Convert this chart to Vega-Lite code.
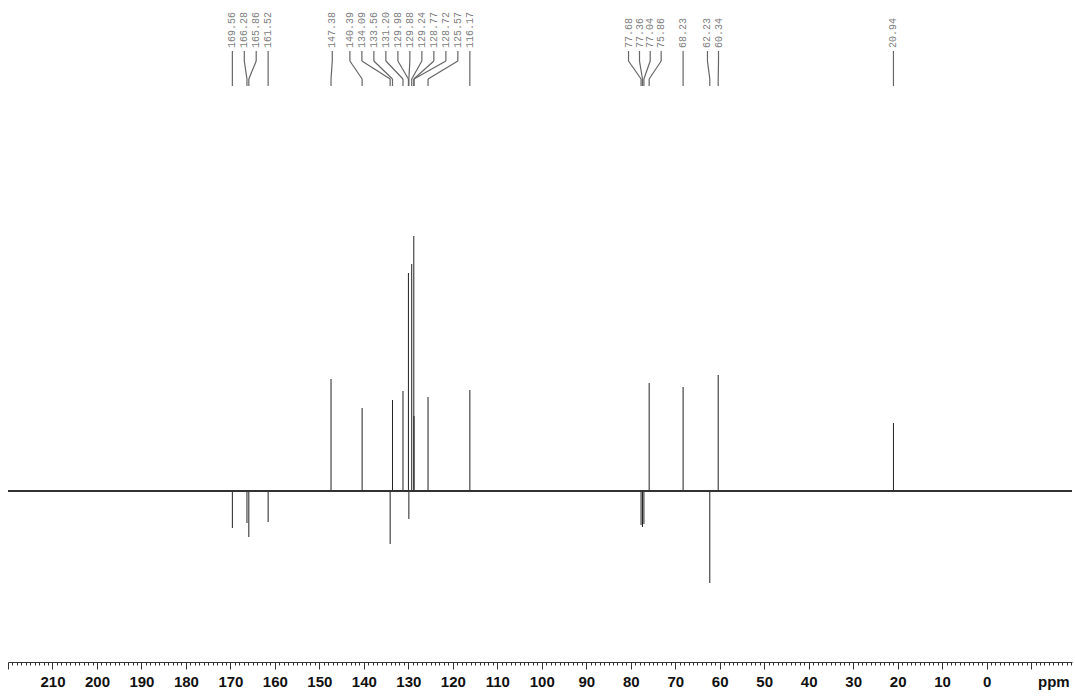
{
  "$schema": "https://vega.github.io/schema/vega-lite/v6.json",
  "width": 1064,
  "height": 662,
  "autosize": {"type": "none"},
  "padding": {"left": 8, "top": 0, "right": 3, "bottom": 34},
  "background": "white",
  "config": {"view": {"stroke": null}},
  "resolve": {"axis": {"x": "independent"}},
  "data": {"values": [
    {"ppm": 169.56, "h": -37, "label": "169.56", "lp": 169.56},
    {"ppm": 166.28, "h": -32, "label": "166.28", "lp": 166.88},
    {"ppm": 165.86, "h": -46, "label": "165.86", "lp": 164.20},
    {"ppm": 161.52, "h": -31, "label": "161.52", "lp": 161.52},
    {"ppm": 147.38, "h": 112, "label": "147.38", "lp": 147.1},
    {"ppm": 140.39, "h": 83, "label": "140.39", "lp": 143.14},
    {"ppm": 134.09, "h": -53, "label": "134.09", "lp": 140.44},
    {"ppm": 133.56, "h": 91, "label": "133.56", "lp": 137.75},
    {"ppm": 131.20, "h": 100, "label": "131.20", "lp": 135.05},
    {"ppm": 129.98, "h": 218, "label": "129.98", "lp": 132.35},
    {"ppm": 129.88, "h": -28, "label": "129.88", "lp": 129.66},
    {"ppm": 129.24, "h": 227, "label": "129.24", "lp": 126.96},
    {"ppm": 128.77, "h": 255, "label": "128.77", "lp": 124.26},
    {"ppm": 128.72, "h": 75, "label": "128.72", "lp": 121.56},
    {"ppm": 125.57, "h": 94, "label": "125.57", "lp": 118.87},
    {"ppm": 116.17, "h": 101, "label": "116.17", "lp": 116.17},
    {"ppm": 77.68, "h": -34, "label": "77.68", "lp": 80.50},
    {"ppm": 77.36, "h": -36, "label": "77.36", "lp": 78.03},
    {"ppm": 77.04, "h": -33, "label": "77.04", "lp": 75.62},
    {"ppm": 75.86, "h": 108, "label": "75.86", "lp": 73.16},
    {"ppm": 68.23, "h": 104, "label": "68.23", "lp": 68.23},
    {"ppm": 62.23, "h": -92, "label": "62.23", "lp": 62.75},
    {"ppm": 60.34, "h": 116, "label": "60.34", "lp": 60.27},
    {"ppm": 20.94, "h": 68, "label": "20.94", "lp": 20.94}
  ]},
  "layer": [
    {
      "mark": {"type": "rule", "color": "#222222", "strokeWidth": 1},
      "encoding": {
        "x": {"field": "ppm", "type": "quantitative",
          "scale": {"domain": [-19.2, 220], "reverse": true, "nice": false, "zero": false},
          "axis": {
            "title": null,
            "values": [-19,-18,-17,-16,-15,-14,-13,-12,-11,-10,-9,-8,-7,-6,-5,-4,-3,-2,-1,0,1,2,3,4,5,6,7,8,9,10,11,12,13,14,15,16,17,18,19,20,21,22,23,24,25,26,27,28,29,30,31,32,33,34,35,36,37,38,39,40,41,42,43,44,45,46,47,48,49,50,51,52,53,54,55,56,57,58,59,60,61,62,63,64,65,66,67,68,69,70,71,72,73,74,75,76,77,78,79,80,81,82,83,84,85,86,87,88,89,90,91,92,93,94,95,96,97,98,99,100,101,102,103,104,105,106,107,108,109,110,111,112,113,114,115,116,117,118,119,120,121,122,123,124,125,126,127,128,129,130,131,132,133,134,135,136,137,138,139,140,141,142,143,144,145,146,147,148,149,150,151,152,153,154,155,156,157,158,159,160,161,162,163,164,165,166,167,168,169,170,171,172,173,174,175,176,177,178,179,180,181,182,183,184,185,186,187,188,189,190,191,192,193,194,195,196,197,198,199,200,201,202,203,204,205,206,207,208,209,210,211,212,213,214,215,216,217,218,219,220],
            "labelExpr": "datum.value === -15 ? 'ppm' : ((datum.value % 10 === 0 && datum.value !== -10 && datum.value !== 220) ? datum.label : '')",
            "labelOverlap": false,
            "labelFlush": false,
            "labelBound": false,
            "grid": false,
            "domainColor": "#333333",
            "domainWidth": 1,
            "tickColor": "#333333",
            "tickWidth": 1,
            "tickSize": 7,
            "tickDash": {"condition": {"test": "datum.value % 10 === 0", "value": []}, "value": [3, 20]},
            "labelFont": "Liberation Sans",
            "labelFontWeight": "bold",
            "labelFontSize": 15,
            "labelColor": "#111111",
            "labelPadding": 5
          }
        },
        "y": {"field": "h", "type": "quantitative",
          "scale": {"domain": [-171, 491], "nice": false, "zero": false},
          "axis": null},
        "y2": {"datum": 0}
      }
    },
    {
      "mark": {"type": "rule", "color": "#333333", "strokeWidth": 1},
      "encoding": {"y": {"datum": 0}}
    },
    {
      "mark": {"type": "rule", "color": "#666666", "strokeWidth": 1.2},
      "encoding": {
        "x": {"field": "lp", "type": "quantitative", "axis": null},
        "y": {"datum": 440},
        "y2": {"datum": 430}
      }
    },
    {
      "mark": {"type": "rule", "color": "#666666", "strokeWidth": 1.2},
      "encoding": {
        "x": {"field": "lp", "type": "quantitative", "axis": null},
        "x2": {"field": "ppm"},
        "y": {"datum": 430},
        "y2": {"datum": 412}
      }
    },
    {
      "mark": {"type": "rule", "color": "#666666", "strokeWidth": 1.2},
      "encoding": {
        "x": {"field": "ppm", "type": "quantitative", "axis": null},
        "y": {"datum": 412},
        "y2": {"datum": 405}
      }
    },
    {
      "mark": {"type": "text", "angle": 270, "align": "left", "baseline": "middle",
        "font": "Liberation Mono", "fontSize": 10, "color": "#808080"},
      "encoding": {
        "x": {"field": "lp", "type": "quantitative", "axis": null},
        "y": {"datum": 443},
        "text": {"field": "label"}
      }
    }
  ]
}
